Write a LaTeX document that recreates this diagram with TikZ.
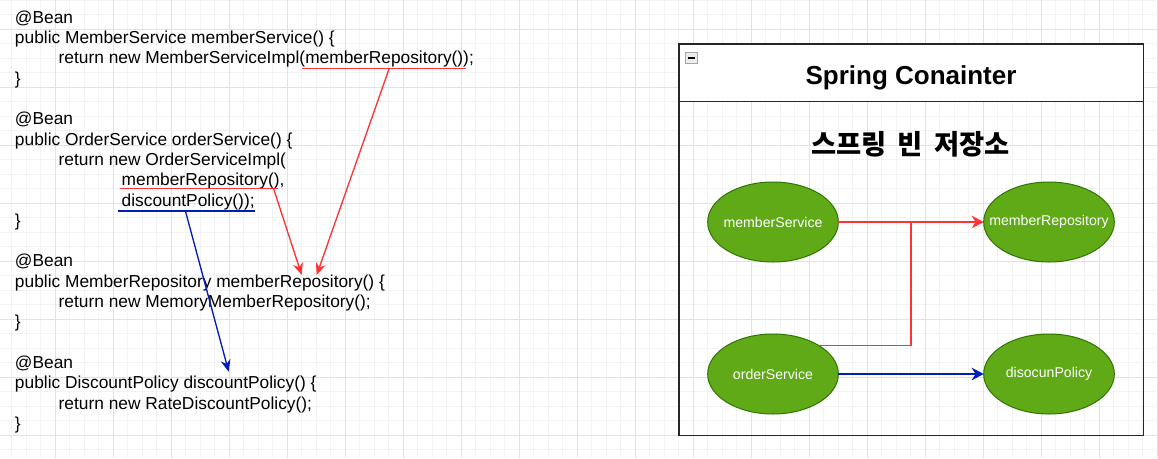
\documentclass[tikz,border=0pt]{standalone}
\usepackage{fontspec}
\setmainfont{Liberation Sans}
\newfontfamily\krfont[WordSpace=1.8]{Noto Sans CJK KR}
\usetikzlibrary{arrows.meta,shapes.geometric,calc}
\definecolor{beanGreen}{HTML}{60A917}
\definecolor{beanEdge}{HTML}{2D7600}
\definecolor{refRed}{HTML}{FF3333}
\definecolor{refBlue}{HTML}{001DBC}
\definecolor{gridMajor}{HTML}{E2E2E2}
\definecolor{gridMinor}{HTML}{F3F3F3}

\begin{document}
\begin{tikzpicture}[x=0.75pt, y=-0.75pt]
\tikzset{ >={Stealth[length=9pt,width=7.5pt]}, inner sep=0pt, outer sep=0pt,
  code/.style={anchor=base west, font=\fontsize{13pt}{15pt}\selectfont},
  bean/.style={ellipse, draw=beanEdge, line width=0.75pt, fill=beanGreen, text=white,
    minimum width=98pt, minimum height=60pt, font=\fontsize{10.6pt}{12pt}\selectfont},
  redline/.style={draw=refRed, line width=1pt},
  blueline/.style={draw=refBlue, line width=1pt},
}

\useasboundingbox (0,0) rectangle (1158,458);
\fill[white] (0,0) rectangle (1158,458);

% grid
\foreach \i in {0,...,80} \draw[gridMinor, line width=0.75pt] ({-2.7+14.5*\i},0) -- ({-2.7+14.5*\i},458);
\foreach \i in {0,...,31} \draw[gridMinor, line width=0.75pt] (0,{0.3+14.5*\i}) -- (1158,{0.3+14.5*\i});
\foreach \i in {0,...,20} \draw[gridMajor, line width=0.75pt] ({-2.7+58*\i},0) -- ({-2.7+58*\i},458);
\foreach \i in {0,...,7}  \draw[gridMajor, line width=0.75pt] (0,{29.3+58*\i}) -- (1158,{29.3+58*\i});

% code
\node [code] (bean1) at (15,23.3)   {@Bean};
\node [code] (sig1)  at (15,43.6)   {public MemberService memberService() \{};
\node [code] (ret1)  at (58.7,63.9) {return new MemberServiceImpl(};
\node [code] (mrA)   at (ret1.base east) {memberRepository())};
\node [code] (semi1) at (mrA.base east)  {;};
\node [code] (end1)  at (15,84.2)   {\}};

\node [code] (bean2) at (15,124.8)   {@Bean};
\node [code] (sig2)  at (15,145.1)   {public OrderService orderService() \{};
\node [code] (ret2)  at (58.7,165.4) {return new OrderServiceImpl(};
\node [code] (mrB)   at (121.7,185.7) {memberRepository()};
\node [code] (comma) at (mrB.base east) {,};
\node [code] (dpA)   at (121.7,206.0) {discountPolicy());};
\node [code] (end2)  at (15,226.3)   {\}};

\node [code] (bean3) at (15,266.9)   {@Bean};
\node [code] (sig3)  at (15,287.2)   {public MemberRepository memberRepository() \{};
\node [code] (ret3)  at (58.7,307.5) {return new MemoryMemberRepository();};
\node [code] (end3)  at (15,327.8)   {\}};

\node [code] (bean4) at (15,368.4)   {@Bean};
\node [code] (sig4)  at (15,388.7)   {public DiscountPolicy discountPolicy() \{};
\node [code] (ret4)  at (58.7,409.0) {return new RateDiscountPolicy();};
\node [code] (end4)  at (15,429.3)   {\}};

% underlines
\draw [redline]  ([shift={(-3,4.4)}]mrA.base west) -- ([shift={(-3,4.4)}]mrA.base east);
\draw [redline]  ([shift={(-1.5,2.8)}]mrB.base west) -- ([shift={(-1.5,2.8)}]mrB.base east);
\draw [blueline] ([shift={(-3.5,5)}]dpA.base west) -- ([shift={(0,5)}]dpA.base east);

\coordinate (mrAfrom) at (389,69);
\coordinate (mrBfrom) at (273.7,189);
\coordinate (dpFrom)  at (185.7,212);
\coordinate (mrTipA)  at (316.7,275);
\coordinate (mrTipB)  at (301.7,275);
\coordinate (dpTip)   at (228.7,371.7);

\draw [redline, ->]  (mrAfrom) -- (mrTipA);
\draw [redline, ->]  (mrBfrom) -- (mrTipB);
\draw [blueline, ->] (dpFrom)  -- (dpTip);

% container
\draw [line width=1pt, draw=black!85] (679,44) rectangle (1143.7,435.3);
\filldraw [fill=white, line width=1pt, draw=black!85] (679,44) rectangle (1143.7,101.7);
\draw [draw=gray!70, fill=gray!15] (685.5,52.5) rectangle (697.5,63.5);
\draw [line width=1.2pt] (688,58) -- (695,58);

\node [anchor=base, font=\fontsize{19.5pt}{24pt}\selectfont\bfseries] (title) at (911,84.3) {Spring Conainter};
\node [font=\krfont\bfseries\fontsize{20.5pt}{24pt}\selectfont] (store) at (910.5,143.8) {스프링 빈 저장소};

\node [bean] (memberService)    at (773,222)  {\makebox[0pt]{memberService}};
\node [bean] (memberRepository) at (1049,222) {\makebox[0pt]{memberRepository}};
\node [bean] (orderService)     at (773,374)  {\makebox[0pt]{orderService}};
\node [bean] (discountPolicy)   at (1049,374) {\makebox[0pt]{disocunPolicy}};

\coordinate (joint) at ($(memberService.east)!0.5!(memberRepository.west)$);

\draw [redline, -{Stealth[length=9pt,width=9.5pt]}] (memberService) -- (memberRepository);
\draw [redline] (orderService.north east) -| (joint);
\draw [blueline, -{Stealth[length=9pt,width=9.5pt]}] (orderService) -- (discountPolicy);

\end{tikzpicture}
\end{document}
